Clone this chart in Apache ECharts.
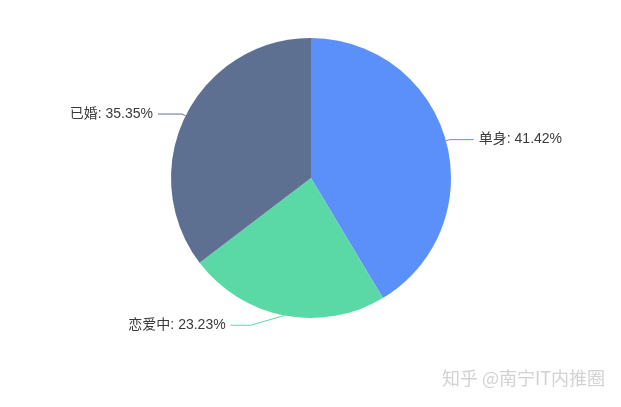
<!DOCTYPE html>
<html>
<head>
    <meta charset="utf-8">
    <title>婚恋状况</title>
    <script src="https://cdn.jsdelivr.net/npm/echarts@6/dist/echarts.min.js"></script>
    <style type="text/css">
        html, body{
            margin: 0;
            padding: 0;
            background: #fff;
        }
        #main{
            width: 621px;
            height: 407px;
        }
    </style>
</head>
<body>
<div id="main"></div>
<script>
    var names = ['单身', '恋爱中', '已婚'];
    var counts = [41, 23, 35];
    var colors = ['#5B8FF9', '#5AD8A6', '#5D7092'];

    var data = [];
    for (var i = 0; i < names.length; i++) {
        data.push({name: names[i], value: counts[i], itemStyle: {color: colors[i]}});
    }
    // 恋爱中的标签在原图里往下挪了一点
    data[1].labelLine = {length: 10, length2: 52};

    var myChart = echarts.init(document.getElementById('main'));
    var option = {
        animation: false,
        textStyle: {
            fontFamily: '"Noto Sans CJK SC", "Noto Sans", sans-serif'
        },
        series: [{
            type: 'pie',
            center: [311, 178],
            radius: 140,
            startAngle: 90,
            clockwise: true,
            data: data,
            label: {
                formatter: '{b}: {d}%',
                color: '#3a3a3a',
                fontSize: 14,
                fontFamily: '"Liberation Sans", "Noto Sans CJK SC", sans-serif'
            },
            labelLine: {
                length: 4,
                length2: 24
            },
            labelLayout: function (params) {
                // 折线拐点往左移，做成斜线
                var p = params.labelLinePoints;
                if (params.dataIndex === 1 && p && p.length === 3) {
                    return {labelLinePoints: [p[0], [p[1][0] - 32, p[1][1]], p[2]]};
                }
            }
        }],
        graphic: [{
            type: 'text',
            right: 16,
            top: 369,
            style: {
                text: '知乎 @南宁IT内推圈',
                fill: '#d2d2d2',
                font: '18px "Noto Sans CJK SC", sans-serif'
            }
        }]
    };
    myChart.setOption(option);
</script>
</body>
</html>
